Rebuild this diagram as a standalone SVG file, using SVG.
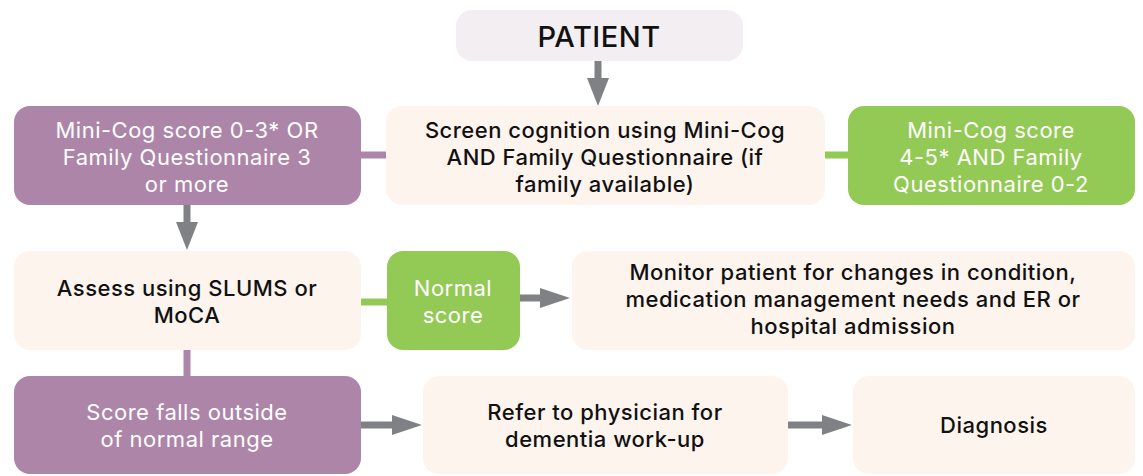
<svg xmlns="http://www.w3.org/2000/svg" width="1143" height="476" viewBox="0 0 1143 476">
<style>
.purple{fill:#ad85a8}
.green{fill:#93c955}
.peach{fill:#fdf4ee}
.pat{fill:#f2eef2}
text{font-family:Inter,"Noto Sans","Liberation Sans",sans-serif;font-size:22px;letter-spacing:0.5px;text-anchor:middle}
.dk{fill:#111111;font-weight:500}
.wt{fill:#ffffff;font-weight:400}
.ln-p{stroke:#ad85a8;stroke-width:7;fill:none}
.ln-g{stroke:#93c955;stroke-width:7;fill:none}
.ln-a{stroke:#808184;stroke-width:7;fill:none}
.head{fill:#808184}
</style>
<rect width="1143" height="476" fill="#ffffff"/>
<g id="connectors">
  <line class="ln-p" x1="361" y1="155" x2="387" y2="155"/>
  <line class="ln-g" x1="824" y1="155" x2="849" y2="155"/>
  <line class="ln-a" x1="598" y1="61" x2="598" y2="80"/>
  <polygon class="head" points="587,78 609,78 598,106"/>
  <line class="ln-a" x1="187" y1="205" x2="187" y2="224"/>
  <polygon class="head" points="176,222 198,222 187,250"/>
  <line class="ln-g" x1="360" y1="302" x2="388" y2="302"/>
  <line class="ln-a" x1="519" y1="298" x2="543" y2="298"/>
  <polygon class="head" points="540,288 540,308 570,298"/>
  <line class="ln-p" x1="187" y1="349" x2="187" y2="377"/>
  <line class="ln-a" x1="360" y1="425" x2="395" y2="425"/>
  <polygon class="head" points="392,415 392,435 422,425"/>
  <line class="ln-a" x1="788" y1="425" x2="825" y2="425"/>
  <polygon class="head" points="822,415 822,435 852,425"/>
</g>
<g id="patient">
  <rect class="pat" x="456" y="10" width="287" height="51" rx="16"/>
  <text class="dk" x="599" y="47" style="font-size:29px">PATIENT</text>
</g>
<g id="screen">
  <rect class="peach" x="386" y="106" width="439" height="99" rx="16"/>
  <text class="dk" x="605" y="138">Screen cognition using Mini-Cog</text>
  <text class="dk" x="605" y="165">AND Family Questionnaire (if</text>
  <text class="dk" x="605" y="192">family available)</text>
</g>
<g id="minicog-low">
  <rect class="purple" x="14" y="106" width="347" height="99" rx="16"/>
  <text class="wt" x="187" y="138">Mini-Cog score 0-3* OR</text>
  <text class="wt" x="187" y="165">Family Questionnaire 3</text>
  <text class="wt" x="187" y="192">or more</text>
</g>
<g id="minicog-high">
  <rect class="green" x="848" y="106" width="287" height="99" rx="16"/>
  <text class="wt" x="991" y="138">Mini-Cog score</text>
  <text class="wt" x="991" y="165">4-5* AND Family</text>
  <text class="wt" x="991" y="192">Questionnaire 0-2</text>
</g>
<g id="assess">
  <rect class="peach" x="14" y="251" width="347" height="99" rx="16"/>
  <text class="dk" x="187" y="296">Assess using SLUMS or</text>
  <text class="dk" x="187" y="323">MoCA</text>
</g>
<g id="normal">
  <rect class="green" x="387" y="251" width="133" height="99" rx="16"/>
  <text class="wt" x="453" y="296">Normal</text>
  <text class="wt" x="453" y="323">score</text>
</g>
<g id="monitor">
  <rect class="peach" x="572" y="251" width="563" height="99" rx="16"/>
  <text class="dk" x="853" y="280">Monitor patient for changes in condition,</text>
  <text class="dk" x="853" y="307">medication management needs and ER or</text>
  <text class="dk" x="853" y="334">hospital admission</text>
</g>
<g id="outside">
  <rect class="purple" x="14" y="376" width="347" height="98" rx="16"/>
  <text class="wt" x="187" y="420">Score falls outside</text>
  <text class="wt" x="187" y="447">of normal range</text>
</g>
<g id="refer">
  <rect class="peach" x="423" y="376" width="365" height="98" rx="16"/>
  <text class="dk" x="605" y="420">Refer to physician for</text>
  <text class="dk" x="605" y="447">dementia work-up</text>
</g>
<g id="diagnosis">
  <rect class="peach" x="853" y="376" width="282" height="98" rx="16"/>
  <text class="dk" x="994" y="433">Diagnosis</text>
</g>
</svg>
